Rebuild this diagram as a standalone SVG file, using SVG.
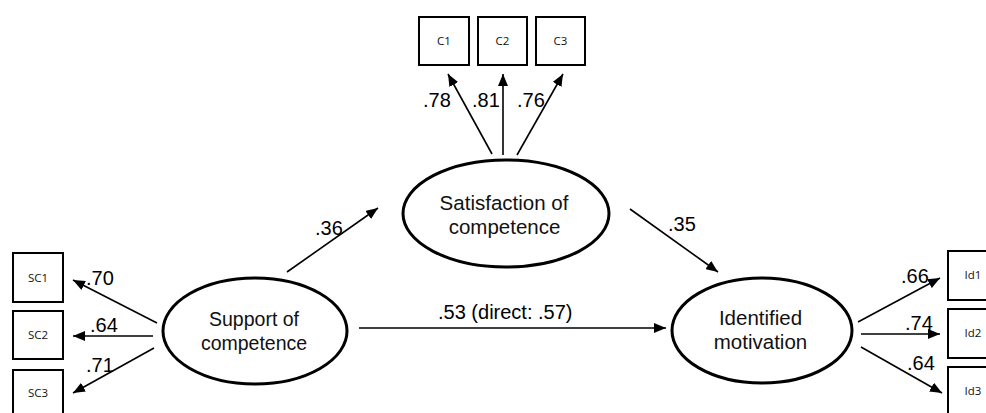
<svg xmlns="http://www.w3.org/2000/svg" width="986" height="413" viewBox="0 0 986 413">
  <defs>
    <marker id="arr" markerUnits="userSpaceOnUse" markerWidth="12" markerHeight="10" refX="12" refY="5" orient="auto">
      <path d="M0,0 L12,5 L0,10 z" fill="#000"/>
    </marker>
    <style>
      .box { fill: #fff; stroke: #000; stroke-width: 2; }
      .lat { fill: #fff; stroke: #000; stroke-width: 3; }
      .ind { font-family: "Open Sans", "Noto Sans", sans-serif; font-size: 11.5px; fill: #111; text-anchor: middle; }
      .latt { font-family: "Liberation Sans", Arial, sans-serif; font-size: 20.5px; fill: #111; text-anchor: middle; }
      .lbl { font-family: "Liberation Sans", Arial, sans-serif; font-size: 20px; fill: #000; }
      .edge { stroke: #000; stroke-width: 1.6; fill: none; marker-end: url(#arr); }
    </style>
  </defs>
  <rect width="986" height="413" fill="#fff"/>

  <g id="connectors">
    <line class="edge" x1="157" y1="323" x2="73" y2="280"/>
    <line class="edge" x1="153" y1="336" x2="73" y2="336"/>
    <line class="edge" x1="154" y1="348" x2="73" y2="393"/>
    <line class="edge" x1="492" y1="154" x2="448" y2="74"/>
    <line class="edge" x1="503" y1="155" x2="503" y2="74"/>
    <line class="edge" x1="517" y1="155" x2="563" y2="74"/>
    <line class="edge" x1="287" y1="272" x2="378" y2="208"/>
    <line class="edge" x1="630" y1="209" x2="718" y2="272"/>
    <line class="edge" x1="359" y1="328" x2="666" y2="328"/>
    <line class="edge" x1="858" y1="322" x2="940" y2="278"/>
    <line class="edge" x1="861" y1="334" x2="940" y2="334"/>
    <line class="edge" x1="861" y1="347" x2="942" y2="393"/>
  </g>

  <g id="labels">
    <text class="lbl" x="86" y="285">.70</text>
    <text class="lbl" x="90" y="332">.64</text>
    <text class="lbl" x="86" y="372">.71</text>
    <text class="lbl" x="423" y="107">.78</text>
    <text class="lbl" x="472" y="107">.81</text>
    <text class="lbl" x="517" y="107">.76</text>
    <text class="lbl" x="315" y="235">.36</text>
    <text class="lbl" x="668" y="231">.35</text>
    <text class="lbl" x="438" y="319">.53 (direct: .57)</text>
    <text class="lbl" x="901" y="283">.66</text>
    <text class="lbl" x="905" y="330">.74</text>
    <text class="lbl" x="907" y="370">.64</text>
  </g>

  <g id="SC1"><rect class="box" x="13" y="253" width="50" height="49"/><text class="ind" x="38" y="281.5">SC1</text></g>
  <g id="SC2"><rect class="box" x="13" y="311" width="50" height="48"/><text class="ind" x="38" y="339">SC2</text></g>
  <g id="SC3"><rect class="box" x="13" y="370" width="50" height="49"/><text class="ind" x="38" y="397">SC3</text></g>

  <g id="C1"><rect class="box" x="419" y="17" width="50" height="48"/><text class="ind" x="444" y="45">C1</text></g>
  <g id="C2"><rect class="box" x="478" y="17" width="49" height="48"/><text class="ind" x="502.5" y="45">C2</text></g>
  <g id="C3"><rect class="box" x="536" y="17" width="49" height="48"/><text class="ind" x="560.5" y="45">C3</text></g>

  <g id="Id1"><rect class="box" x="948" y="251" width="50" height="49"/><text class="ind" x="973" y="279">Id1</text></g>
  <g id="Id2"><rect class="box" x="948" y="309" width="50" height="49"/><text class="ind" x="973" y="337">Id2</text></g>
  <g id="Id3"><rect class="box" x="948" y="367" width="50" height="49"/><text class="ind" x="973" y="395">Id3</text></g>

  <g id="support">
    <ellipse class="lat" cx="255" cy="331" rx="92" ry="53"/>
    <text class="latt" x="254" y="326" style="font-size:19.5px">Support of</text>
    <text class="latt" x="254" y="350" style="font-size:19.5px">competence</text>
  </g>
  <g id="satisfaction">
    <ellipse class="lat" cx="506" cy="213.5" rx="103" ry="53.5"/>
    <text class="latt" x="504" y="210">Satisfaction of</text>
    <text class="latt" x="504.5" y="234">competence</text>
  </g>
  <g id="identified">
    <ellipse class="lat" cx="762" cy="330.5" rx="90" ry="52.5"/>
    <text class="latt" x="760.5" y="325">Identified</text>
    <text class="latt" x="760.5" y="349">motivation</text>
  </g>
</svg>
